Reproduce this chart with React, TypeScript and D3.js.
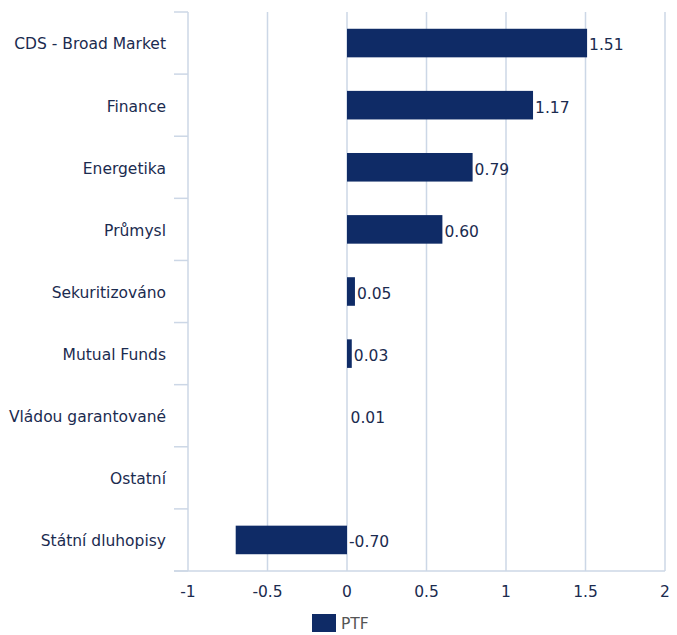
import React from "react";
import * as d3 from "d3";

const categories = [
  "CDS - Broad Market",
  "Finance",
  "Energetika",
  "Průmysl",
  "Sekuritizováno",
  "Mutual Funds",
  "Vládou garantované",
  "Ostatní",
  "Státní dluhopisy",
];
const ptfValues: (number | null)[] = [1.51, 1.17, 0.79, 0.6, 0.05, 0.03, 0.01, null, -0.7];
const xTicks = [-1, -0.5, 0, 0.5, 1, 1.5, 2];
const seriesName = "PTF";

const W = 677;
const H = 635;
const margin = { top: 12, right: 12, bottom: 64, left: 188 };
const font = "DejaVu Sans, Verdana, sans-serif";
const fs = 15.5;
const barColor = "#0f2b66";
const gridColor = "#ccd7e6";
const textColor = "#1b2b4f";

export default function App() {
  const x = d3.scaleLinear().domain([-1, 2]).range([margin.left, W - margin.right]);
  const y = d3
    .scaleBand()
    .domain(categories)
    .range([margin.top, H - margin.bottom])
    .paddingInner(0.54)
    .paddingOuter(0.27);
  const step = y.step();
  const yTop = margin.top;
  const yBottom = H - margin.bottom;
  const bandEdges = d3.range(categories.length + 1).map((i) => yTop + i * step);

  return (
    <svg
      width={W}
      height={H}
      style={{ position: "absolute", left: 0, top: 0, background: "#fff" }}
      fontFamily={font}
    >
      {/* vertical grid */}
      {xTicks.map((t) => (
        <line key={t} x1={x(t)} x2={x(t)} y1={yTop} y2={yBottom} stroke={gridColor} strokeWidth={1.5} />
      ))}
      {/* left axis ticks between categories */}
      {bandEdges.map((e, i) => (
        <line key={i} x1={margin.left - 14} x2={margin.left} y1={e} y2={e} stroke={gridColor} strokeWidth={1.5} />
      ))}
      <line x1={margin.left - 14} x2={W - margin.right} y1={yBottom} y2={yBottom} stroke={gridColor} strokeWidth={1.5} />

      {/* bars */}
      {categories.map((c, i) => {
        const v = ptfValues[i];
        if (v === null || Math.abs(v) < 0.02) return null;
        const x0 = x(Math.min(0, v));
        const x1 = x(Math.max(0, v));
        return (
          <rect key={c} x={x0} y={y(c)} width={x1 - x0} height={y.bandwidth()} fill={barColor} />
        );
      })}
      {/* value labels */}
      {categories.map((c, i) => {
        const v = ptfValues[i];
        if (v === null) return null;
        return (
          <text
            key={c}
            x={x(Math.max(0, v)) + 2}
            y={(y(c) ?? 0) + y.bandwidth() / 2 + 2}
            dy="0.35em"
            fontSize={fs}
            fill={textColor}
          >
            {v.toFixed(2)}
          </text>
        );
      })}
      {/* category labels */}
      {categories.map((c) => (
        <text
          key={c}
          x={margin.left - 22}
          y={(y(c) ?? 0) + y.bandwidth() / 2 + 1}
          dy="0.35em"
          textAnchor="end"
          fontSize={fs}
          fill={textColor}
        >
          {c}
        </text>
      ))}
      {/* x tick labels */}
      {xTicks.map((t) => (
        <text key={t} x={x(t)} y={yBottom + 26} textAnchor="middle" fontSize={fs} fill={textColor}>
          {d3.format("")(t).replace("−", "-")}
        </text>
      ))}
      {/* legend */}
      <rect x={312} y={614} width={24} height={18} fill={barColor} />
      <text x={341} y={624} dy="0.35em" fontSize={fs} fill="#555">
        {seriesName}
      </text>
    </svg>
  );
}
